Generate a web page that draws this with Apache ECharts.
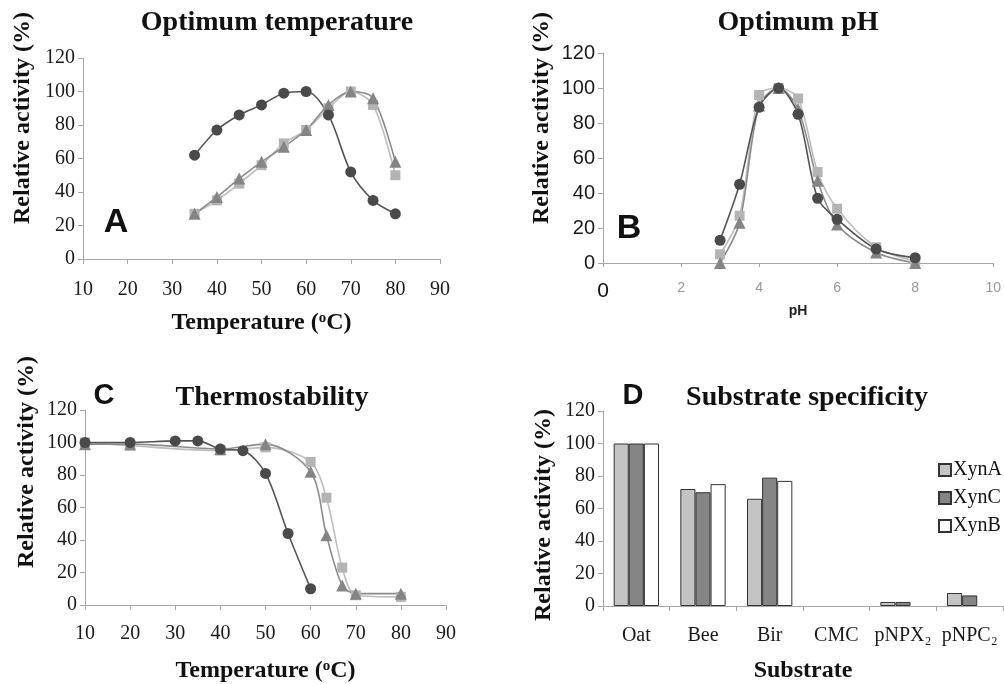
<!DOCTYPE html>
<html>
<head>
<meta charset="utf-8">
<style>
  html, body { margin: 0; padding: 0; background: #fff; }
  #main { width: 1004px; height: 684px; }
</style>
<script src="https://cdn.jsdelivr.net/npm/echarts@6/dist/echarts.min.js"></script>
</head>
<body>
<div id="main"></div>
<script>
// A: optimum temperature
var tempA = [35, 40, 45, 50, 55, 60, 65, 70, 75, 80];
var optTempXynC = [62, 77, 86, 92, 99, 100, 86, 52, 35, 27];
var optTempXynA = [27, 35, 45, 56, 69, 77, 90, 100, 92, 50];
var optTempXynB = [27, 37, 48, 58, 67, 77, 92, 100, 96, 58];

// B: optimum pH
var phB = [3, 3.5, 4, 4.5, 5, 5.5, 6, 7, 8];
var optPhXynC = [13, 45, 89, 100, 85, 37, 25, 8, 3];
var optPhXynA = [5, 27, 96, 100, 94, 52, 31, 9, 1];
var optPhXynB = [0, 23, 90, 100, 88, 47, 22, 6, 0];

// C: thermostability
var tempCXynC = [10, 20, 30, 35, 40, 45, 50, 55, 60];
var thermoXynC = [100, 100, 101, 101, 96, 95, 81, 44, 10];
var tempCOther = [10, 20, 40, 50, 60, 63.5, 67, 70, 80];
var thermoXynA = [100, 98, 95, 97, 88, 66, 23, 6, 5];
var thermoXynB = [99, 99, 96, 99, 82, 43, 12, 7, 7];

// D: substrate specificity
var substrates = ['Oat', 'Bee', 'Bir', 'CMC', 'pNPX₂', 'pNPC₂'];
var specXynA = [100, 72, 66, 0, 2.5, 8];
var specXynC = [100, 70, 79, 0, 2.5, 6.5];
var specXynB = [100, 75, 77, 0, 0, 0];

function pairs(xs, ys) {
  return xs.map(function (x, i) { return [x, ys[i]]; });
}

// zero-height bars get no outline, as in the figure
function barData(vals) {
  return vals.map(function (v) {
    return v === 0 ? { value: 0, itemStyle: { borderWidth: 0 } } : v;
  });
}

var serif = 'Liberation Serif, Times New Roman, serif';
var sans = 'Liberation Sans, Arial, sans-serif';
var axisGray = '#a8a8a8';

var darkC = '#4a4a4a', lightA = '#b4b4b4', midB = '#858585';

function lineSeries(name, idx, data, symbol, color, lineColor, size) {
  return {
    name: name, type: 'line', xAxisIndex: idx, yAxisIndex: idx,
    data: data, smooth: 0.3, symbol: symbol, symbolSize: size,
    lineStyle: { color: lineColor, width: 1.6 },
    itemStyle: { color: color },
    emphasis: { disabled: true },
    silent: true
  };
}

function valueY(idx, fontFamily) {
  return {
    type: 'value', gridIndex: idx, min: 0, max: 120, interval: 20,
    splitLine: { show: false },
    axisLine: { show: true, lineStyle: { color: axisGray } },
    axisTick: { show: true, length: 5, lineStyle: { color: axisGray } },
    axisLabel: { color: '#1a1a1a', fontSize: 20, fontFamily: fontFamily, margin: 8 }
  };
}

var tempName = 'Temperature ({s|o}C)';
var tempNameStyle = {
  fontFamily: serif, fontWeight: 'bold', fontSize: 24, color: '#111',
  rich: { s: { fontFamily: serif, fontWeight: 'bold', fontSize: 15, color: '#111', padding: [0, 0, 9, 0] } }
};

function tempX(idx, gap, margin) {
  return {
    type: 'value', gridIndex: idx, min: 10, max: 90, interval: 10,
    splitLine: { show: false },
    axisLine: { show: true, lineStyle: { color: axisGray } },
    axisTick: { show: true, length: 5, lineStyle: { color: axisGray } },
    axisLabel: { color: '#1a1a1a', fontSize: 20, fontFamily: serif, margin: margin },
    name: tempName, nameLocation: 'middle', nameGap: gap,
    nameTextStyle: tempNameStyle
  };
}

function label(text, x, y, font, rot) {
  return {
    type: 'text', x: x, y: y, rotation: rot || 0,
    style: { text: text, font: font, fill: '#111', align: 'center', verticalAlign: 'middle' }
  };
}

var yName = 'Relative activity (%)';
var titleFont = 'bold 28px ' + serif;
var yNameFont = 'bold 24px ' + serif;

var myChart = echarts.init(document.getElementById('main'), null, { renderer: 'canvas' });

var option = {
  backgroundColor: '#fff',
  animation: false,
  grid: [
    { left: 83, top: 58, width: 357, height: 201 },
    { left: 603, top: 53, width: 394, height: 210 },
    { left: 85, top: 410, width: 361, height: 198 },
    { left: 603, top: 411, width: 400, height: 202 }
  ],
  xAxis: [
    tempX(0, 52, 21),
    {
      type: 'value', gridIndex: 1, min: 0, max: 10, interval: 2,
      splitLine: { show: false },
      axisLine: { show: true, lineStyle: { color: axisGray } },
      axisTick: { show: true, length: 4, lineStyle: { color: axisGray } },
      axisLabel: {
        color: '#999', fontSize: 14, fontFamily: sans, margin: 18,
        formatter: function (v) { return v === 0 ? '{z|0}' : String(v); },
        rich: { z: { fontSize: 21, color: '#111', fontFamily: sans } }
      },
      name: 'pH', nameLocation: 'middle', nameGap: 41,
      nameTextStyle: { fontFamily: sans, fontWeight: 'bold', fontSize: 14, color: '#222' }
    },
    tempX(2, 54, 19),
    {
      type: 'category', gridIndex: 3, data: substrates,
      axisLine: { show: true, lineStyle: { color: axisGray } },
      axisTick: { show: true, length: 5, lineStyle: { color: axisGray } },
      axisLabel: { color: '#1a1a1a', fontSize: 20, fontFamily: serif, margin: 20, interval: 0 },
      name: 'Substrate', nameLocation: 'middle', nameGap: 53,
      nameTextStyle: { fontFamily: serif, fontWeight: 'bold', fontSize: 24, color: '#111' }
    }
  ],
  yAxis: [
    valueY(0, serif),
    valueY(1, sans),
    valueY(2, serif),
    valueY(3, serif)
  ],
  legend: {
    orient: 'vertical', left: 933, top: 455,
    itemWidth: 12, itemHeight: 12, itemGap: 8,
    icon: 'rect',
    data: ['XynA', 'XynC', 'XynB'],
    textStyle: { fontFamily: serif, fontSize: 20, color: '#111', padding: [0, 0, 0, -3] },
    selectedMode: false
  },
  graphic: [
    label('Optimum temperature', 277, 23, titleFont),
    label('Optimum pH', 798, 23, titleFont),
    label('Thermostability', 272, 398, titleFont),
    label('Substrate specificity', 807, 398, titleFont),
    label('A', 116, 223, 'bold 34px ' + sans),
    label('B', 629, 229, 'bold 34px ' + sans),
    label('C', 104, 396, 'bold 29px ' + sans),
    label('D', 633, 396, 'bold 29px ' + sans),
    label(yName, 23, 118, yNameFont, Math.PI / 2),
    label(yName, 542, 118, yNameFont, Math.PI / 2),
    label(yName, 27, 462, yNameFont, Math.PI / 2),
    label(yName, 544, 515, yNameFont, Math.PI / 2)
  ],
  series: [
    lineSeries('A-XynA', 0, pairs(tempA, optTempXynA), 'rect', lightA, '#bdbdbd', 10),
    lineSeries('A-XynB', 0, pairs(tempA, optTempXynB), 'triangle', midB, '#8c8c8c', 12),
    lineSeries('A-XynC', 0, pairs(tempA, optTempXynC), 'circle', darkC, '#555', 11),

    lineSeries('B-XynA', 1, pairs(phB, optPhXynA), 'rect', lightA, '#bdbdbd', 10),
    lineSeries('B-XynB', 1, pairs(phB, optPhXynB), 'triangle', midB, '#8c8c8c', 12),
    lineSeries('B-XynC', 1, pairs(phB, optPhXynC), 'circle', darkC, '#555', 11),

    lineSeries('C-XynA', 2, pairs(tempCOther, thermoXynA), 'rect', lightA, '#bdbdbd', 10),
    lineSeries('C-XynB', 2, pairs(tempCOther, thermoXynB), 'triangle', midB, '#8c8c8c', 12),
    lineSeries('C-XynC', 2, pairs(tempCXynC, thermoXynC), 'circle', darkC, '#555', 11),

    { name: 'XynA', type: 'bar', xAxisIndex: 3, yAxisIndex: 3, data: barData(specXynA), barGap: 0, barCategoryGap: '32%',
      itemStyle: { color: '#c4c4c4', borderColor: '#333', borderWidth: 1 }, silent: true },
    { name: 'XynC', type: 'bar', xAxisIndex: 3, yAxisIndex: 3, data: barData(specXynC), barGap: 0, barCategoryGap: '32%',
      itemStyle: { color: '#858585', borderColor: '#333', borderWidth: 1 }, silent: true },
    { name: 'XynB', type: 'bar', xAxisIndex: 3, yAxisIndex: 3, data: barData(specXynB), barGap: 0, barCategoryGap: '32%',
      itemStyle: { color: '#ffffff', borderColor: '#333', borderWidth: 1 }, silent: true }
  ]
};

myChart.setOption(option);
</script>
</body>
</html>
